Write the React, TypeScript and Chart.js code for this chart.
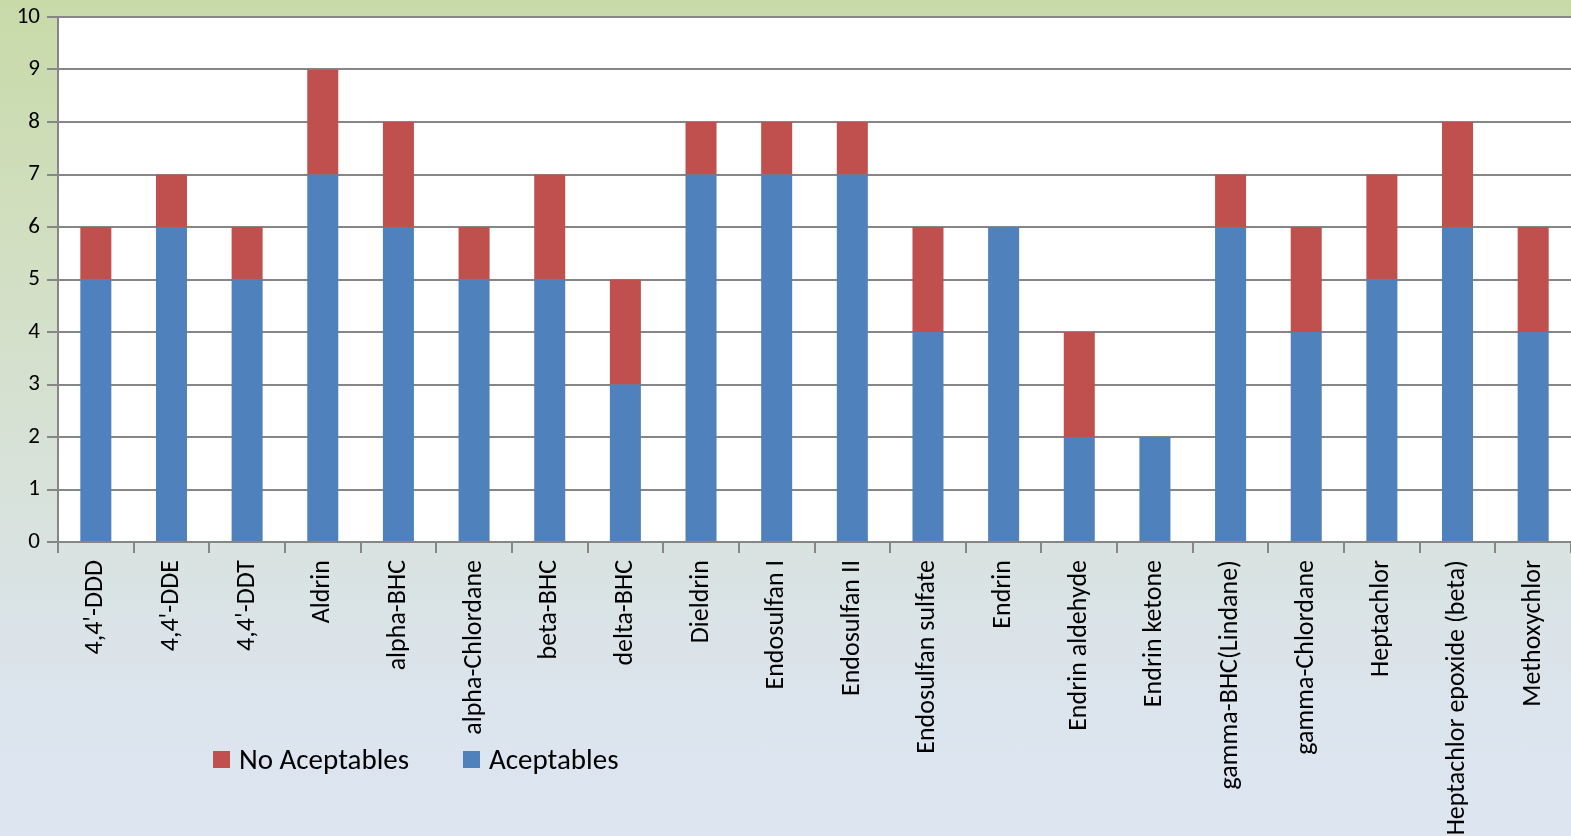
import React, { useEffect, useRef } from "react";
import { Chart, registerables } from "chart.js";

Chart.register(...registerables);

const categories = [
  "4,4'-DDD", "4,4'-DDE", "4,4'-DDT", "Aldrin", "alpha-BHC", "alpha-Chlordane",
  "beta-BHC", "delta-BHC", "Dieldrin", "Endosulfan I", "Endosulfan II",
  "Endosulfan sulfate", "Endrin", "Endrin aldehyde", "Endrin ketone",
  "gamma-BHC(Lindane)", "gamma-Chlordane", "Heptachlor", "Heptachlor epoxide (beta)",
  "Methoxychlor",
];
const aceptables = [5, 6, 5, 7, 6, 5, 5, 3, 7, 7, 7, 4, 6, 2, 2, 6, 4, 5, 6, 4];
const noAceptables = [1, 1, 1, 2, 2, 1, 2, 2, 1, 1, 1, 2, 0, 2, 0, 1, 2, 2, 2, 2];
const yTicks = [0, 1, 2, 3, 4, 5, 6, 7, 8, 9, 10];

const FONT = "Carlito, Lato, 'Open Sans', sans-serif";
const BLUE = "#4F81BD";
const RED = "#C0504D";
const GRID = "#868686";

const W = 1571;
const H = 836;
const LEFT = 58;
const TOP = 17;
const BOTTOM = 542;

const whiteArea = {
  id: "whiteArea",
  beforeDraw(chart: any) {
    const { ctx, chartArea } = chart;
    ctx.save();
    ctx.fillStyle = "#FFFFFF";
    ctx.fillRect(chartArea.left, chartArea.top, chartArea.right - chartArea.left, chartArea.bottom - chartArea.top);
    ctx.restore();
  },
};

export default function App() {
  const ref = useRef<HTMLCanvasElement | null>(null);
  useEffect(() => {
    document.body.style.margin = "0";
    const chart = new Chart(ref.current as HTMLCanvasElement, {
      type: "bar",
      data: {
        labels: categories,
        datasets: [
          { label: "Aceptables", data: aceptables, backgroundColor: BLUE, barPercentage: 0.41, categoryPercentage: 1 },
          { label: "No Aceptables", data: noAceptables, backgroundColor: RED, barPercentage: 0.41, categoryPercentage: 1 },
        ],
      },
      options: {
        animation: false,
        responsive: false,
        maintainAspectRatio: false,
        layout: { padding: { top: TOP, left: 0, right: 0, bottom: 0 } },
        plugins: { legend: { display: false }, tooltip: { enabled: false } },
        scales: {
          x: {
            stacked: true,
            afterFit(scale: any) {
              scale.height = H - BOTTOM;
              scale.paddingLeft = 0;
              scale.paddingRight = 0;
            },
            grid: { drawOnChartArea: false, drawTicks: true, tickLength: 11, color: GRID, lineWidth: 2, offset: true },
            border: { display: true, color: GRID, width: 2 },
            ticks: {
              minRotation: 90, maxRotation: 90, autoSkip: false,
              color: "#000", padding: 7,
              font: { family: FONT, size: 26 },
            },
          },
          y: {
            stacked: true,
            min: 0, max: 10,
            afterFit(scale: any) {
              scale.width = LEFT;
              scale.paddingTop = 0;
              scale.paddingBottom = 0;
            },
            afterBuildTicks(scale: any) { scale.ticks = yTicks.map((v) => ({ value: v })); },
            grid: { color: GRID, lineWidth: 2, tickLength: 11, drawTicks: true },
            border: { display: true, color: GRID, width: 2 },
            ticks: { color: "#000", padding: 7, font: { family: FONT, size: 23 } },
          },
        },
      },
      plugins: [whiteArea],
    });
    return () => chart.destroy();
  }, []);

  const legendItem = (color: string, text: string, left: number) => (
    <div style={{ position: "absolute", left, top: 742, display: "flex", alignItems: "center", fontFamily: FONT, fontSize: 29, lineHeight: "35px", color: "#000" }}>
      <span style={{ display: "inline-block", width: 17, height: 17, background: color, marginRight: 9 }} />
      <span>{text}</span>
    </div>
  );

  return (
    <div style={{ position: "absolute", left: 0, top: 0, width: W, height: H, overflow: "hidden", background: "linear-gradient(to bottom, #C8DAA8 0%, #D3E0C6 35%, #D8E2DC 60%, #DCE4EE 85%, #DDE5F1 100%)" }}>
      <canvas ref={ref} width={W} height={H} style={{ position: "absolute", left: 0, top: 0, width: W, height: H }} />
      {legendItem(RED, "No Aceptables", 213)}
      {legendItem(BLUE, "Aceptables", 463)}
    </div>
  );
}
